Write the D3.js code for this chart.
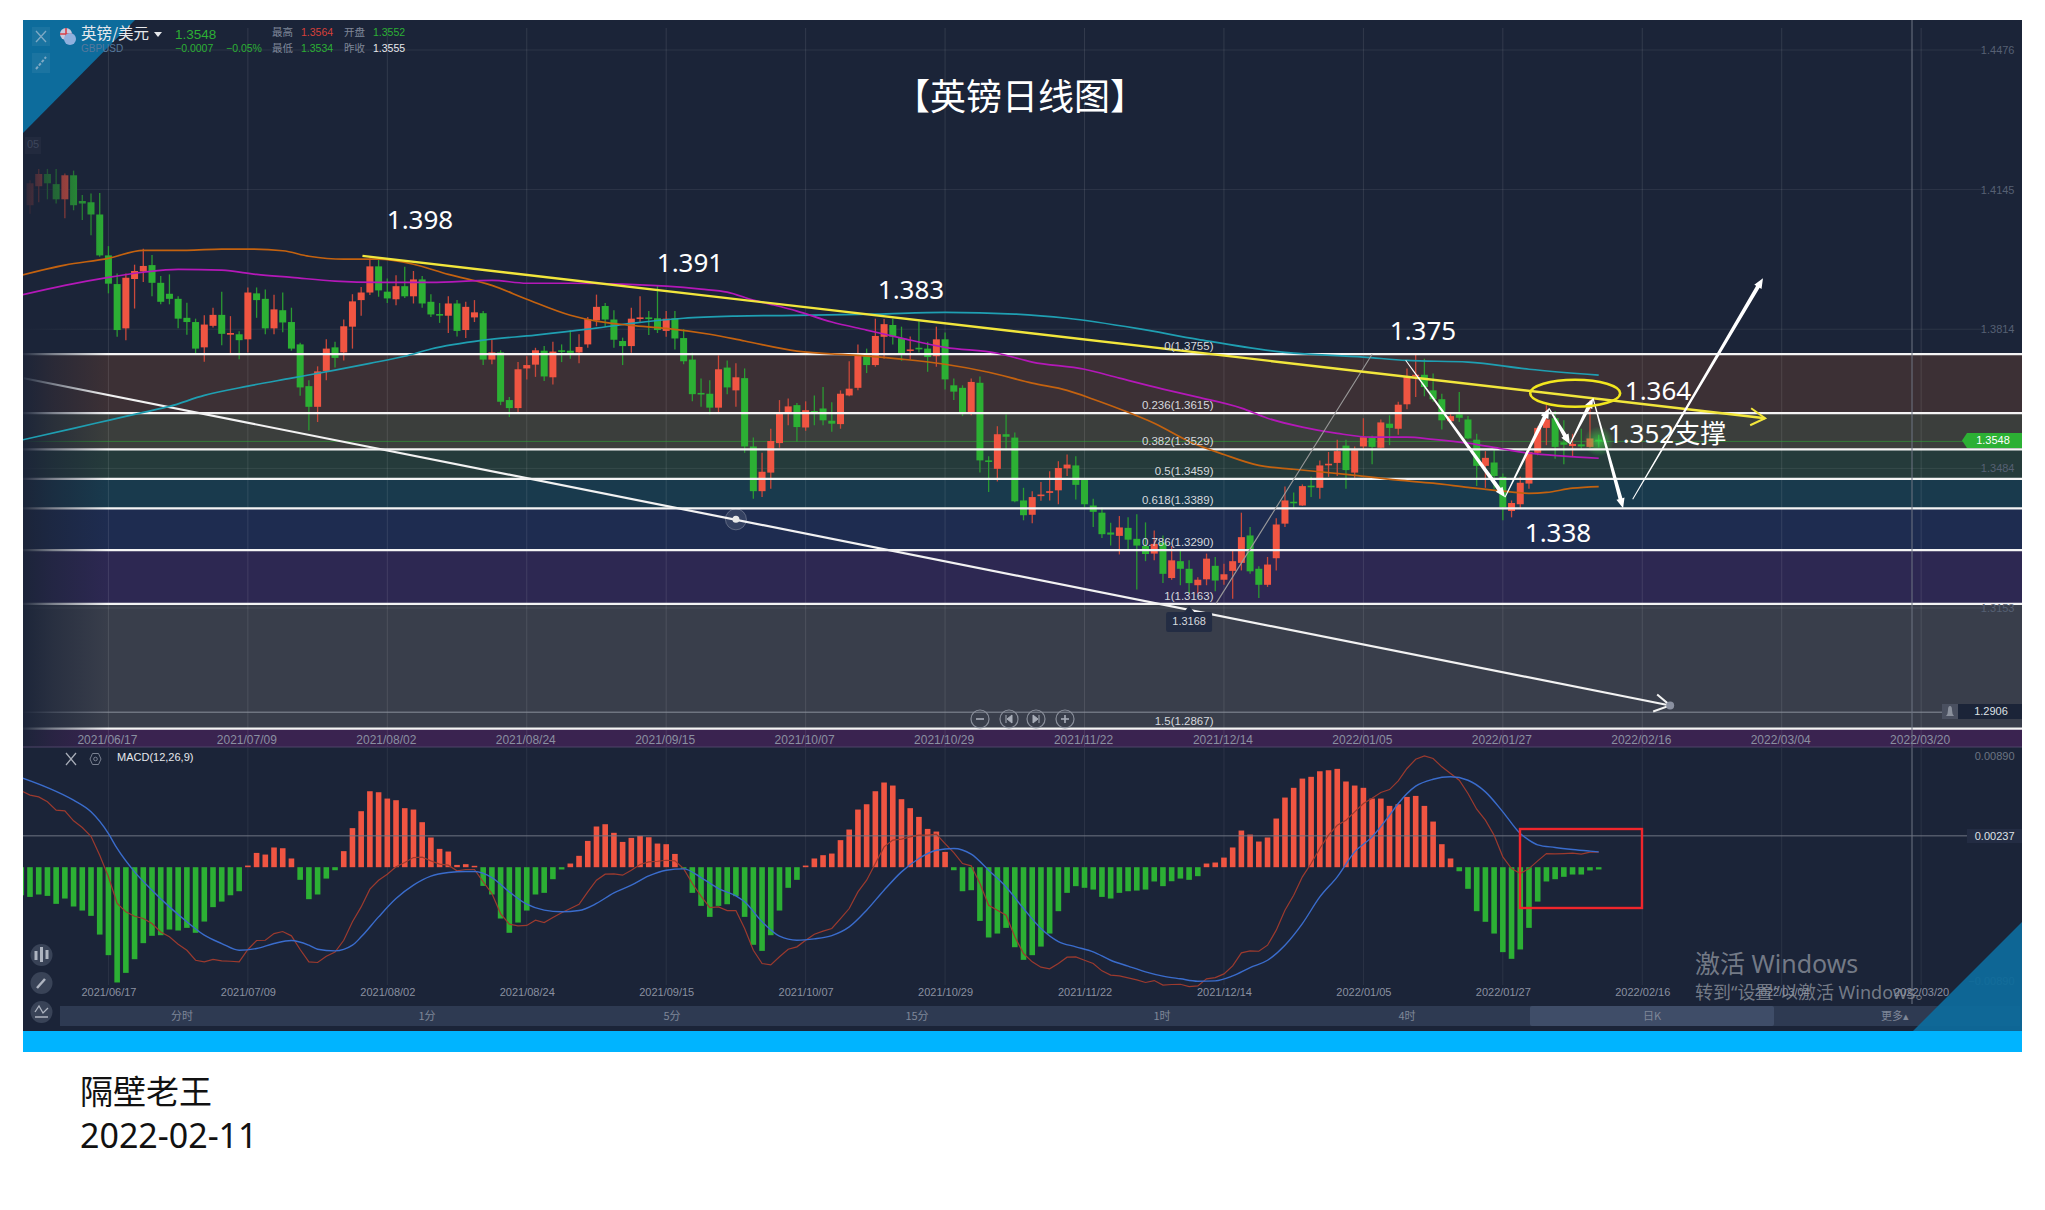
<!DOCTYPE html>
<html><head><meta charset="utf-8">
<script src="https://cdn.jsdelivr.net/npm/d3@7/dist/d3.min.js"></script>
<style>html,body{margin:0;padding:0;background:#fff}svg{display:block}</style></head><body>
<script>
// ---- candles, in 1/10000 of a price unit ----
const opens=[14108,14153,14182,14158,14122,14179,14118,14115,14086,13989,13921,13816,13933,13951,13966,13924,13898,13886,13841,13831,13771,13822,13848,13801,13802,13790,13899,13886,13816,13859,13831,13778,13679,13630,13715,13771,13759,13820,13883,13901,13963,13903,13885,13916,13892,13932,13879,13850,13846,13875,13812,13842,13852,13742,13759,13646,13627,13721,13730,13763,13700,13764,13763,13759,13778,13835,13869,13837,13786,13774,13839,13842,13840,13810,13840,13793,13742,13663,13661,13628,13723,13669,13698,13536,13430,13474,13544,13617,13634,13581,13620,13626,13597,13589,13657,13675,13752,13729,13796,13824,13793,13763,13770,13768,13750,13790,13681,13675,13615,13687,13503,13483,13565,13557,13408,13374,13419,13426,13432,13484,13491,13458,13396,13379,13332,13324,13343,13317,13300,13282,13308,13224,13264,13246,13207,13221,13253,13220,13241,13260,13325,13246,13208,13271,13353,13405,13396,13443,13438,13493,13497,13538,13474,13536,13557,13533,13590,13578,13636,13703,13706,13669,13648,13596,13612,13600,13552,13490,13498,13464,13383,13399,13448,13521,13580,13603,13546,13537,13541,13535,13552];
const closes=[14160,14182,14160,14122,14179,14108,14112,14086,13989,13922,13812,13936,13952,13964,13924,13879,13886,13839,13831,13768,13825,13848,13803,13805,13788,13901,13883,13816,13861,13830,13768,13676,13630,13714,13768,13746,13821,13880,13901,13963,13906,13887,13916,13892,13932,13875,13849,13847,13875,13810,13867,13854,13742,13759,13642,13627,13719,13729,13764,13702,13761,13762,13758,13772,13838,13867,13837,13789,13774,13839,13842,13838,13812,13839,13792,13738,13660,13661,13628,13719,13676,13700,13536,13430,13476,13549,13614,13631,13582,13622,13617,13598,13590,13661,13673,13752,13729,13798,13826,13796,13756,13766,13769,13748,13790,13695,13666,13616,13689,13503,13502,13565,13559,13406,13373,13416,13422,13430,13485,13493,13445,13399,13381,13328,13327,13344,13315,13301,13281,13305,13234,13266,13246,13212,13220,13270,13218,13233,13264,13321,13240,13208,13256,13351,13408,13403,13442,13440,13491,13495,13525,13480,13527,13558,13535,13593,13580,13635,13701,13706,13677,13648,13598,13608,13604,13555,13490,13509,13466,13392,13402,13450,13523,13580,13600,13535,13540,13542,13536,13555,13548];
const highs=[14167,14194,14194,14194,14183,14190,14132,14136,14137,14011,13946,13946,13967,14005,13990,13940,13944,13892,13877,13839,13847,13865,13903,13845,13809,13913,13913,13908,13896,13901,13865,13782,13693,13726,13790,13784,13837,13897,13914,13982,13984,13934,13942,13962,13952,13940,13897,13876,13892,13883,13879,13883,13857,13789,13764,13653,13736,13750,13770,13774,13784,13778,13812,13802,13843,13896,13876,13859,13794,13865,13892,13857,13918,13857,13857,13814,13758,13697,13693,13752,13740,13733,13721,13557,13521,13578,13646,13650,13639,13643,13657,13677,13641,13669,13738,13778,13768,13839,13838,13839,13820,13797,13833,13784,13820,13806,13697,13681,13697,13702,13513,13584,13612,13569,13438,13430,13452,13477,13501,13517,13513,13461,13412,13391,13355,13371,13368,13375,13356,13337,13325,13300,13290,13266,13226,13282,13274,13258,13290,13379,13345,13252,13274,13366,13441,13427,13446,13464,13503,13523,13552,13552,13536,13603,13562,13600,13610,13642,13721,13755,13744,13709,13661,13614,13665,13608,13566,13525,13527,13472,13408,13464,13535,13584,13634,13620,13598,13566,13578,13646,13564];
const lows=[14088,14115,14122,14112,14077,14096,14073,14037,13986,13899,13796,13788,13863,13926,13892,13873,13873,13816,13801,13755,13737,13818,13776,13755,13743,13759,13841,13802,13802,13807,13763,13656,13574,13594,13693,13723,13740,13768,13846,13895,13891,13876,13871,13888,13875,13865,13843,13829,13805,13797,13793,13831,13729,13731,13634,13606,13616,13695,13701,13691,13683,13736,13744,13733,13770,13821,13820,13770,13729,13758,13831,13800,13805,13796,13766,13731,13643,13630,13612,13616,13660,13630,13521,13412,13416,13436,13533,13586,13547,13573,13586,13586,13571,13578,13655,13669,13710,13725,13744,13778,13739,13742,13759,13713,13725,13671,13646,13608,13610,13474,13428,13453,13527,13404,13361,13354,13407,13408,13399,13466,13410,13392,13345,13319,13301,13280,13292,13197,13264,13266,13212,13220,13207,13188,13187,13207,13193,13208,13175,13242,13234,13177,13203,13242,13345,13389,13395,13416,13412,13464,13466,13436,13462,13529,13494,13531,13539,13564,13624,13653,13655,13642,13576,13594,13594,13553,13442,13438,13436,13361,13368,13389,13436,13515,13539,13507,13494,13513,13531,13533,13534];
const candleTickIndex=[9,25,41,57,73,89,105,121,137,153,169,185,201,217];
const dateLabels=["2021/06/17","2021/07/09","2021/08/02","2021/08/24","2021/09/15","2021/10/07","2021/10/29","2021/11/22","2021/12/14","2022/01/05","2022/01/27","2022/02/16","2022/03/04","2022/03/20"];
const priceTicks=[1.4476,1.4145,1.3814,1.3484,1.3153];
const fibLevels=[1.3755,1.3615,1.3529,1.3459,1.3389,1.3290,1.3163,1.2867,1.2702];
const fibNames=["0","0.236","0.382","0.5","0.618","0.786","1","1.5","1.618"];
const fibColors=["#3c3035","#3b3e3c","#253b3b","#193a4d","#1e2c50","#2d2852","#393e4b","#3a2350"];
// ---- moving averages (candle index, price) ----
const ma1Idx=[-1,4,9,13,18,22,25,29,32,36,40,44,48,53,57,62,65,69,73,78,82,88,95,100,105,110,115,119,122,126,129,133,137,141,145,151,157,161,165,169,172,174,177,180];
const ma1Val=[13942,13966,13982,14001,14001,14004,14004,14000,13987,13980,13980,13968,13944,13918,13885,13847,13833,13823,13816,13802,13786,13762,13752,13743,13731,13712,13686,13669,13648,13617,13591,13548,13517,13491,13482,13470,13456,13449,13439,13430,13425,13427,13437,13441];
const ma2Idx=[-1,4,9,13,17,22,26,30,35,40,46,53,57,62,68,73,77,80,83,85,88,92,96,100,105,111,115,121,125,130,134,139,142,146,150,154,158,161,165,169,172,176,180];
const ma2Val=[13895,13918,13937,13949,13956,13954,13944,13937,13928,13925,13925,13930,13923,13923,13921,13916,13909,13902,13883,13873,13857,13831,13812,13793,13771,13757,13736,13719,13698,13672,13653,13627,13603,13582,13567,13558,13558,13553,13544,13530,13520,13513,13508];
const ma3Idx=[-1,5,9,13,16,20,25,30,35,39,43,46,52,58,64,69,75,81,88,97,105,113,119,127,134,144,153,158,165,172,180];
const ma3Val=[13551,13579,13598,13617,13631,13657,13679,13698,13717,13733,13750,13767,13788,13800,13814,13828,13840,13845,13847,13850,13854,13850,13840,13816,13790,13759,13748,13740,13736,13719,13705];
// ---- MACD, in 1/100000; first value belongs to candle index -1 ----
const macdHist=[-222,-235,-216,-227,-290,-248,-311,-343,-385,-533,-696,-912,-836,-728,-601,-543,-538,-493,-501,-480,-519,-430,-316,-272,-222,-190,13,113,100,156,150,69,-100,-253,-216,-90,-24,127,309,443,601,593,543,530,467,456,356,235,145,124,18,24,11,-148,-216,-406,-519,-438,-343,-216,-203,-95,-18,29,90,208,322,340,272,200,232,248,237,187,182,105,-11,-203,-306,-393,-306,-293,-229,-393,-614,-662,-538,-343,-163,-100,13,69,95,108,214,298,456,498,601,670,646,538,467,398,303,282,121,-24,-190,-182,-425,-556,-525,-480,-633,-733,-696,-628,-525,-348,-203,-150,-163,-177,-235,-248,-203,-190,-185,-177,-113,-150,-111,-90,-100,-71,29,37,76,156,290,258,203,235,385,551,628,701,715,759,767,778,678,646,628,543,543,485,498,556,564,485,361,182,69,-32,-171,-348,-432,-525,-672,-725,-651,-480,-272,-113,-95,-76,-58,-58,-26,-18];
const macdDif=[604,570,556,517,451,446,367,314,245,95,-76,-287,-353,-388,-406,-446,-512,-551,-609,-657,-736,-749,-730,-741,-744,-749,-651,-580,-578,-525,-509,-543,-651,-749,-754,-704,-672,-578,-432,-314,-174,-103,-55,3,37,76,79,50,24,16,-29,-18,-18,-116,-208,-367,-451,-464,-461,-419,-438,-398,-361,-327,-293,-195,-103,-55,-53,-63,-24,21,42,47,55,50,-11,-129,-229,-319,-314,-343,-343,-485,-657,-762,-773,-709,-649,-630,-578,-530,-506,-485,-406,-327,-195,-103,29,161,214,222,240,253,253,261,187,116,29,11,-129,-301,-340,-380,-551,-683,-749,-791,-804,-762,-712,-709,-736,-762,-820,-854,-860,-875,-891,-912,-897,-933,-928,-926,-944,-939,-883,-873,-844,-781,-678,-662,-665,-617,-498,-340,-222,-76,29,148,253,332,372,438,504,546,591,614,683,781,854,881,860,794,741,688,583,459,372,253,82,-11,-50,-11,50,108,105,108,111,103,119,119];
const deaIdx=[-1,2,5,7,9,10,12,14,16,18,20,22,24,26,28,30,32,33,35,37,38,40,42,44,46,48,50,51,53,55,57,59,61,63,65,67,69,71,73,75,77,79,81,82,84,86,88,90,92,94,96,98,100,102,104,106,108,110,112,114,116,118,120,122,124,126,128,130,132,134,136,138,140,142,144,146,148,150,152,154,156,157,159,161,163,165,167,169,171,172,173,175,177,179,180];
const deaVal=[709,630,530,438,266,148,-37,-182,-314,-432,-538,-604,-657,-643,-604,-580,-617,-649,-662,-617,-551,-393,-248,-142,-71,-42,-34,-34,-82,-195,-293,-340,-353,-343,-287,-203,-142,-69,-24,-13,-82,-169,-227,-274,-432,-546,-578,-567,-541,-472,-340,-182,-37,69,134,148,103,-24,-156,-327,-485,-588,-630,-670,-736,-783,-828,-862,-883,-902,-899,-860,-794,-736,-617,-446,-235,-76,121,240,411,504,641,696,715,688,596,438,266,214,177,156,140,127,121];
const macdTicks=[0.0089,-0.0089];
// ---- annotations (candle index, price) ----
const trendYellow=[[38.15,1.39879],[199.1,1.36029]];
const channelWhite=[[-0.7,1.36977],[188.2,1.29219]];
const fibGuide=[[136.1,1.31639],[154,1.37547]];
const waveArrows=[[157.85,1.37405,169.25,1.34154],[169.25,1.34154,174.3,1.36266],[174.3,1.36266,176.7,1.35412],[176.7,1.35412,179.35,1.36503],[179.35,1.36503,182.8,1.33893],[183.9,1.34107,198.85,1.39350]];
const keyLevels=[["1.398",420,222.5],["1.391",690,265.5],["1.383",911,292],["1.375",1423,333],["1.364",1658,393.5],["1.352支撑",1667,436.5],["1.338",1558,535]];
const tabNames=["分时","1分","5分","15分","1时","4时","日K","更多▴"];

const W=2045,H=1210,L=23,R=2022,T=20,MAINB=747,PANELB=1031,BANDB=1052;
const BG="#1b2438",RED="#f05542",GREEN="#2cb034",UI="'Liberation Sans','Noto Sans CJK SC',sans-serif",ANN="'Noto Sans','Noto Sans CJK SC',sans-serif",CJK="'Noto Sans CJK SC',sans-serif";
const svg=d3.select("body").append("svg").attr("width",W).attr("height",H).attr("viewBox",`0 0 ${W} ${H}`);
svg.append("rect").attr("width",W).attr("height",H).attr("fill","#fff");
const defs=svg.append("defs");
defs.append("clipPath").attr("id","panelClip").append("rect").attr("x",L).attr("y",T).attr("width",R-L).attr("height",PANELB-T);
defs.append("clipPath").attr("id","mainClip").append("rect").attr("x",L).attr("y",T).attr("width",R-L).attr("height",MAINB-T);
const fade=defs.append("linearGradient").attr("id","leftFade");
fade.append("stop").attr("offset",0).attr("stop-color",BG).attr("stop-opacity",.95);
fade.append("stop").attr("offset",.35).attr("stop-color",BG).attr("stop-opacity",.55);
fade.append("stop").attr("offset",1).attr("stop-color",BG).attr("stop-opacity",0);
const glow=defs.append("radialGradient").attr("id","glow");
glow.append("stop").attr("offset",0).attr("stop-color","#3be04a").attr("stop-opacity",.7);
glow.append("stop").attr("offset",1).attr("stop-color","#3be04a").attr("stop-opacity",0);

const x=d3.scaleLinear().domain([0,180]).range([30,1598.7]);
const y=d3.scaleLinear().domain([1.4476,1.3153]).range([50,608]);
const ym=d3.scaleLinear().domain([0.0089,-0.0089]).range([754.7,979.7]);
const P=v=>v/1e4, M=v=>v/1e5;

svg.append("rect").attr("x",L).attr("y",T).attr("width",R-L).attr("height",PANELB-T).attr("fill",BG);
svg.append("rect").attr("x",L).attr("y",PANELB).attr("width",R-L).attr("height",BANDB-PANELB).attr("fill","#00b4ff");
const main=svg.append("g").attr("clip-path","url(#mainClip)");
const panel=svg.append("g").attr("clip-path","url(#panelClip)");

// bands
main.selectAll("rect.band").data(fibColors).join("rect").attr("class","band")
 .attr("x",L).attr("width",R-L).attr("y",(c,i)=>y(fibLevels[i])).attr("height",(c,i)=>(i===7?MAINB:y(fibLevels[i+1]))-y(fibLevels[i])).attr("fill",c=>c);
// grid
main.selectAll("line.hg").data(priceTicks).join("line").attr("x1",L).attr("x2",1985).attr("y1",d=>y(d)).attr("y2",d=>y(d)).attr("stroke","#fff").attr("stroke-opacity",.08);
const vIdx=candleTickIndex;
main.selectAll("line.vg").data(vIdx).join("line").attr("x1",d=>x(d)).attr("x2",d=>x(d)).attr("y1",28).attr("y2",MAINB).attr("stroke","#fff").attr("stroke-opacity",.1);
// current price line and alert line
main.append("line").attr("x1",L).attr("x2",1965).attr("y1",y(1.3548)).attr("y2",y(1.3548)).attr("stroke",GREEN).attr("stroke-opacity",.55).attr("stroke-width",1);
main.append("line").attr("x1",L).attr("x2",1945).attr("y1",y(1.2906)).attr("y2",y(1.2906)).attr("stroke","#8a909c").attr("stroke-width",1);
// candles
const cg=main.append("g");
const idx=d3.range(opens.length);
cg.selectAll("line.w").data(idx).join("line").attr("x1",i=>x(i)).attr("x2",i=>x(i)).attr("y1",i=>y(P(highs[i]))).attr("y2",i=>y(P(lows[i]))).attr("stroke",i=>closes[i]>=opens[i]?"#c9483a":"#2a9a32").attr("stroke-width",1.3);
cg.selectAll("rect.b").data(idx).join("rect").attr("x",i=>x(i)-3.5).attr("width",7)
 .attr("y",i=>y(P(Math.max(opens[i],closes[i])))).attr("height",i=>Math.max(1.6,Math.abs(y(P(opens[i]))-y(P(closes[i])))))
 .attr("fill",i=>closes[i]>=opens[i]?RED:GREEN);
main.append("circle").attr("cx",x(180)).attr("cy",y(1.3548)).attr("r",15).attr("fill","url(#glow)");
// fib lines
main.selectAll("line.fib").data(fibLevels.slice(0,8)).join("line").attr("x1",L).attr("x2",R).attr("y1",d=>y(d)).attr("y2",d=>y(d)).attr("stroke","#f4f4f4").attr("stroke-width",2.2);
// trend lines
const ptLine=d3.line().x(d=>x(d[0])).y(d=>y(d[1]));
main.append("path").attr("d",ptLine(channelWhite)).attr("stroke","#f2f2f2").attr("stroke-width",2.2).attr("fill","none");
// left fade
main.append("rect").attr("x",L).attr("y",T).attr("width",85).attr("height",MAINB-T).attr("fill","url(#leftFade)");
// MAs
const maLine=d3.line().x(d=>x(d[0])).y(d=>y(P(d[1]))).curve(d3.curveMonotoneX);
[[ma3Idx,ma3Val,"#1f9fb2"],[ma1Idx,ma1Val,"#c4620f"],[ma2Idx,ma2Val,"#b418b8"]].forEach(([a,b,c])=>{
 main.append("path").attr("d",maLine(a.map((v,i)=>[v,b[i]]))).attr("fill","none").attr("stroke",c).attr("stroke-width",1.7);
});
main.append("path").attr("d",ptLine(fibGuide)).attr("stroke","#9a9a9a").attr("stroke-width",1.1).attr("fill","none");
main.append("path").attr("d",ptLine(trendYellow)).attr("stroke","#f2e63c").attr("stroke-width",2.4).attr("fill","none");
function chevron(pt,c,sw,dx1,dy1,dx2,dy2){const px=x(pt[0]),py=y(pt[1]);
 main.append("path").attr("d",`M${px+dx1},${py+dy1}L${px},${py}L${px+dx2},${py+dy2}`).attr("fill","none").attr("stroke",c).attr("stroke-width",sw);}
chevron(trendYellow[1],"#f2e63c",2,-14,-10,-15,7);
chevron(channelWhite[1],"#f2f2f2",2,-13,-11,-17,6);
main.append("circle").attr("cx",x(channelWhite[1][0])).attr("cy",y(channelWhite[1][1])).attr("r",4).attr("fill","#8a90a0");
// channel handle
const hx=x(81),hy=y(1.33632);
main.append("circle").attr("cx",hx).attr("cy",hy).attr("r",10.5).attr("fill","#fff").attr("fill-opacity",.1).attr("stroke","#fff").attr("stroke-opacity",.25);
main.append("circle").attr("cx",hx).attr("cy",hy).attr("r",3.5).attr("fill","#e8e8e8");
// tapered wave arrows
waveArrows.forEach(a=>{
 const x0=x(a[0]),y0=y(a[1]),x1=x(a[2]),y1=y(a[3]),l=Math.hypot(x1-x0,y1-y0),ux=(x1-x0)/l,uy=(y1-y0)/l,nx=-uy,ny=ux,w0=.5,w1=2,hl=10,hw=4.2;
 const bx=x1-ux*hl,by=y1-uy*hl;
 main.append("path").attr("fill","#fff").attr("d",`M${x0+nx*w0},${y0+ny*w0}L${bx+nx*w1},${by+ny*w1}L${bx+nx*hw},${by+ny*hw}L${x1},${y1}L${bx-nx*hw},${by-ny*hw}L${bx-nx*w1},${by-ny*w1}L${x0-nx*w0},${y0-ny*w0}Z`);
});
// ellipse
main.append("ellipse").attr("cx",x(177.3)).attr("cy",y(1.36622)).attr("rx",45).attr("ry",13.5).attr("fill","none").attr("stroke","#f2e61e").attr("stroke-width",2.6);
// fib labels
main.selectAll("text.fl").data(fibLevels).join("text").attr("x",1213.5).attr("y",(d,i)=>y(d)-7).attr("text-anchor","end").attr("dominant-baseline","middle")
 .attr("font-family",UI).attr("font-size",11.5).attr("fill","#d6d9de").text((d,i)=>`${fibNames[i]}(${d.toFixed(4)})`);
// price axis
const pa=d3.axisLeft(y).tickValues(priceTicks).tickFormat(d3.format(".4f")).tickSize(0).tickPadding(0);
const pg=main.append("g").attr("transform","translate(2014.5,0)").call(pa);pg.select(".domain").remove();
pg.selectAll("text").attr("font-family",UI).attr("font-size",11).attr("fill","#566073");
// date axis main
const tickMap=new Map(vIdx.map((v,i)=>[v,dateLabels[i]]));
const da=d3.axisBottom(x).tickValues(vIdx).tickFormat(d=>tickMap.get(d)).tickSize(0).tickPadding(0);
const dg=main.append("g").attr("transform","translate(-1.5,735)").call(da);dg.select(".domain").remove();
dg.selectAll("text").attr("font-family",UI).attr("font-size",12).attr("fill","#8a90a0");
svg.append("line").attr("x1",L).attr("x2",R).attr("y1",747).attr("y2",747).attr("stroke","#4e4568").attr("stroke-width",1);
// 1.3168 tip
const tipX=x(133);
main.append("path").attr("d",`M${tipX-5},612L${tipX},606L${tipX+5},612Z`).attr("fill","#232c43");
main.append("rect").attr("x",tipX-23).attr("y",612).attr("width",46).attr("height",20).attr("rx",2).attr("fill","#232c43");
main.append("text").attr("x",tipX).attr("y",622).attr("text-anchor","middle").attr("dominant-baseline","middle").attr("font-family",UI).attr("font-size",11).attr("fill","#d6d9de").text("1.3168");
// nav buttons
[["−",980],["⏮",1009],["⏭",1036],["+",1065]].forEach(([t,bx])=>{
 main.append("circle").attr("cx",bx).attr("cy",719).attr("r",9).attr("fill","none").attr("stroke","#8a8f9b").attr("stroke-width",1.2);
 if(t==="−"||t==="+"){main.append("line").attr("x1",bx-4).attr("x2",bx+4).attr("y1",719).attr("y2",719).attr("stroke","#a8adb8").attr("stroke-width",1.6);
  if(t==="+")main.append("line").attr("x1",bx).attr("x2",bx).attr("y1",715).attr("y2",723).attr("stroke","#a8adb8").attr("stroke-width",1.6);}
 else{const s=t==="⏮"?1:-1;main.append("path").attr("d",`M${bx-3*s},715V723M${bx+3*s},715L${bx-2*s},719L${bx+3*s},723Z`).attr("fill","#a8adb8").attr("stroke","#a8adb8");}
});
// right tags
main.append("path").attr("d",`M1962,440.5L1967,433H${R}V448H1967Z`).attr("fill",GREEN);
main.append("text").attr("x",1993).attr("y",441.5).attr("text-anchor","middle").attr("dominant-baseline","middle").attr("font-family",UI).attr("font-size",11).attr("fill","#fff").text("1.3548");
main.append("rect").attr("x",1942).attr("y",704).attr("width",16).attr("height",15).attr("fill","#4a5060");
main.append("path").attr("d","M1946,716Q1948,714 1948,710Q1948,706 1950,706Q1952,706 1952,710Q1952,714 1954,716Z").attr("fill","#8a909c");
main.append("rect").attr("x",1958).attr("y",704).attr("width",64).attr("height",15).attr("fill",BG);
main.append("text").attr("x",1991).attr("y",712.5).attr("text-anchor","middle").attr("dominant-baseline","middle").attr("font-family",UI).attr("font-size",11).attr("fill","#dfe2e6").text("1.2906");

// ---- MACD panel ----
panel.selectAll("line.mv").data(vIdx).join("line").attr("x1",d=>x(d)).attr("x2",d=>x(d)).attr("y1",748).attr("y2",985).attr("stroke","#fff").attr("stroke-opacity",.07);
panel.selectAll("rect.h").data(macdHist).join("rect").attr("x",(d,i)=>x(i-1)-2.8).attr("width",5.6)
 .attr("y",d=>d>=0?ym(M(d)):ym(0)).attr("height",d=>Math.max(1.5,Math.abs(ym(M(d))-ym(0)))).attr("fill",d=>d>=0?RED:GREEN);
const crossVal=0.00248;
panel.append("line").attr("x1",L).attr("x2",1967).attr("y1",ym(crossVal)).attr("y2",ym(crossVal)).attr("stroke","#6f7583").attr("stroke-width",1);
const mL=d3.line().x(d=>x(d[0])).y(d=>ym(M(d[1])));
panel.append("path").attr("d",mL(macdDif.map((v,i)=>[i-1,v]))).attr("fill","none").attr("stroke","#9c3a2e").attr("stroke-width",1.2);
panel.append("path").attr("d",mL.curve(d3.curveMonotoneX)(deaIdx.map((v,i)=>[v,deaVal[i]]))).attr("fill","none").attr("stroke","#3a6ccc").attr("stroke-width",1.4);
panel.append("rect").attr("x",1520).attr("y",829).attr("width",122).attr("height",79).attr("fill","none").attr("stroke","#f0262c").attr("stroke-width",2.4);
const ma=d3.axisBottom(x).tickValues(vIdx).tickFormat(d=>tickMap.get(d)).tickSize(0).tickPadding(0);
const mg=panel.append("g").attr("transform","translate(0,988)").call(ma);mg.select(".domain").remove();
mg.selectAll("text").attr("font-family",UI).attr("font-size",11).attr("fill","#8a90a0");
const mra=d3.axisLeft(ym).tickValues(macdTicks).tickFormat(d3.format(".5f")).tickSize(0).tickPadding(0);
const mrg=panel.append("g").attr("transform","translate(2014.5,1)").call(mra);mrg.select(".domain").remove();
mrg.selectAll("text").attr("font-family",UI).attr("font-size",11).attr("fill","#6c7482");
panel.append("rect").attr("x",1967).attr("y",829).attr("width",55).attr("height",14).attr("fill","#232c43");
panel.append("text").attr("x",2014.5).attr("y",837).attr("text-anchor","end").attr("dominant-baseline","middle").attr("font-family",UI).attr("font-size",11).attr("fill","#dfe2e6").text("0.00237");
panel.append("line").attr("x1",1912).attr("x2",1912).attr("y1",T).attr("y2",1004).attr("stroke","#6f7583").attr("stroke-width",1);
// macd title icons
panel.append("path").attr("d","M66,753L76,765M76,753L66,765").attr("stroke","#a8adb8").attr("stroke-width",1.3);
panel.append("path").attr("d","M90,759L92.5,753.5H98.5L101,759L98.5,764.5H92.5Z").attr("fill","none").attr("stroke","#7a8191");
panel.append("circle").attr("cx",95.5).attr("cy",759).attr("r",1.8).attr("fill","none").attr("stroke","#7a8191");
panel.append("text").attr("x",117).attr("y",758).attr("dominant-baseline","middle").attr("font-family",UI).attr("font-size",11).attr("fill","#e6e8ec").text("MACD(12,26,9)");
// tabs
panel.append("rect").attr("x",60).attr("y",1006).attr("width",1960).attr("height",20).attr("fill","#2e3a52");
panel.append("rect").attr("x",1530).attr("y",1006).attr("width",244).attr("height",20).attr("rx",2).attr("fill","#3f4d68");
panel.selectAll("text.tab").data(tabNames).join("text").attr("x",(d,i)=>182+245*i-(i===7?2:0)).attr("y",1017).attr("text-anchor","middle").attr("dominant-baseline","middle").attr("font-family",CJK).attr("font-size",11).attr("fill","#7f8798").text(d=>d);
// tool icons
[955,983,1012].forEach(cy=>panel.append("circle").attr("cx",41.5).attr("cy",cy).attr("r",11).attr("fill","#394357"));
panel.append("path").attr("d","M36,951V960M41.5,947V962M47,950V959").attr("stroke","#aeb4c0").attr("stroke-width",3);
panel.append("path").attr("d","M37,988L45,979").attr("stroke","#aeb4c0").attr("stroke-width",2.5);
panel.append("path").attr("d","M35,1012L39,1006L43,1013L48,1008M35,1017H48").attr("stroke","#aeb4c0").attr("stroke-width",1.3).attr("fill","none");
// corners
panel.append("path").attr("d",`M${R},922L1913,${PANELB}H${R}Z`).attr("fill","#0d6c9c").attr("fill-opacity",.93);
panel.append("path").attr("d",`M${L},${T}H135L${L},133Z`).attr("fill","#0d6c9c");
// watermark
panel.append("text").attr("x",1695).attr("y",966.5).attr("dominant-baseline","middle").attr("font-family",ANN).attr("font-size",25).attr("fill","#8c929c").attr("fill-opacity",.8).text("激活 Windows");
panel.append("text").attr("x",1695).attr("y",994.5).attr("dominant-baseline","middle").attr("font-family",ANN).attr("font-size",18).attr("fill","#8c929c").attr("fill-opacity",.8).text("转到“设置”以激活 Windows。");
// header
panel.append("rect").attr("x",32).attr("y",27).attr("width",18).attr("height",19).attr("fill","#fff").attr("fill-opacity",.06);
panel.append("rect").attr("x",32).attr("y",53).attr("width",18).attr("height",20).attr("fill","#fff").attr("fill-opacity",.06);
panel.append("path").attr("d","M36,31L46,42M46,31L36,42").attr("stroke","#7fa9c4").attr("stroke-width",1.3);
panel.append("path").attr("d","M36,69L46,57").attr("stroke","#7fa9c4").attr("stroke-width",2).attr("stroke-dasharray","3 1.5");
panel.append("circle").attr("cx",66).attr("cy",34).attr("r",6).attr("fill","#c7c9de");
panel.append("path").attr("d","M60,34H72M66,28V40").attr("stroke","#d8404a").attr("stroke-width",1.6);
panel.append("circle").attr("cx",70).attr("cy",39).attr("r",6).attr("fill","#8fb0de");
function hdr(t,tx,ty,size,c,fam){panel.append("text").attr("x",tx).attr("y",ty).attr("dominant-baseline","middle").attr("font-family",fam||UI).attr("font-size",size).attr("fill",c).text(t);}
hdr("英镑/美元",81,35,15.5,"#e6e8ec",CJK);
panel.append("path").attr("d","M154,32H162L158,37Z").attr("fill","#e6e8ec");
hdr("GBPUSD",81,49,10,"#56789c");
hdr("1.3548",175,35,13.5,GREEN);
hdr("−0.0007",175,49,10.5,GREEN);hdr("−0.05%",226,49,10.5,GREEN);
hdr("最高",272,33,10.5,"#7f8798",CJK);hdr("1.3564",301,33,10.5,"#d8403a");hdr("开盘",344,33,10.5,"#7f8798",CJK);hdr("1.3552",373,33,10.5,GREEN);
hdr("最低",272,49,10.5,"#7f8798",CJK);hdr("1.3534",301,49,10.5,GREEN);hdr("昨收",344,49,10.5,"#7f8798",CJK);hdr("1.3555",373,49,10.5,"#e6e8ec");
panel.append("rect").attr("x",25).attr("y",137).attr("width",16).attr("height",17).attr("fill","#fff").attr("fill-opacity",.03);
hdr("05",27,145,11,"#3c465c");
// annotations
svg.selectAll("text.key").data(keyLevels).join("text").attr("x",d=>d[1]).attr("y",d=>d[2]).attr("text-anchor","middle").attr("dominant-baseline","middle").attr("font-family",ANN).attr("font-size",26).attr("fill","#fff").text(d=>d[0]);
svg.append("text").attr("x",1020).attr("y",100.5).attr("text-anchor","middle").attr("dominant-baseline","middle").attr("font-family",CJK).attr("font-size",36).attr("fill","#fff").text("【英镑日线图】");
svg.append("text").attr("x",80).attr("y",1095.5).attr("dominant-baseline","middle").attr("font-family",ANN).attr("font-size",33).attr("fill","#111").text("隔壁老王");
svg.append("text").attr("x",80).attr("y",1138.5).attr("dominant-baseline","middle").attr("font-family",ANN).attr("font-size",34).attr("fill","#111").text("2022-02-11");
</script></body></html>
